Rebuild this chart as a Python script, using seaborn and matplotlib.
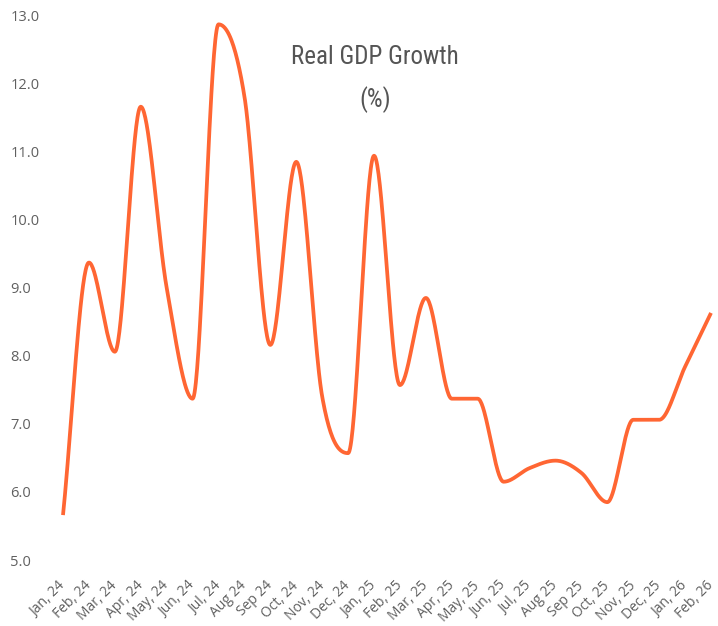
import numpy as np
import pandas as pd
import matplotlib
matplotlib.use("Agg")
import matplotlib.pyplot as plt
import seaborn as sns
from matplotlib import font_manager

months = ["Jan, 24", "Feb, 24", "Mar, 24", "Apr, 24", "May, 24", "Jun, 24", "Jul, 24",
          "Aug 24", "Sep 24", "Oct, 24", "Nov, 24", "Dec, 24", "Jan, 25", "Feb, 25",
          "Mar, 25", "Apr, 25", "May, 25", "Jun, 25", "Jul, 25", "Aug 25", "Sep 25",
          "Oct, 25", "Nov, 25", "Dec, 25", "Jan, 26", "Feb, 26"]
gdp_growth = [5.66, 9.37, 8.06, 11.66, 9.0, 7.37, 12.87, 11.81, 8.16, 10.85, 7.40, 6.57,
              10.94, 7.57, 8.85, 7.37, 7.37, 6.15, 6.35, 6.46, 6.28, 5.85, 7.06, 7.06,
              7.84, 8.63]
y_ticks = [5.0, 6.0, 7.0, 8.0, 9.0, 10.0, 11.0, 12.0, 13.0]
title_lines = ["Real GDP Growth", "(%)"]


def monotone_curve(y, steps=40):
    """Fritsch-Carlson monotone cubic rendering of the series."""
    y = np.asarray(y, float)
    n = len(y)
    x = np.arange(n, dtype=float)
    d = np.diff(y)
    m = np.zeros(n)
    m[0], m[-1] = d[0], d[-1]
    for i in range(1, n - 1):
        if d[i - 1] * d[i] <= 0:
            m[i] = 0.0
        else:
            m[i] = (d[i - 1] + d[i]) / 2
    for i in range(n - 1):
        if d[i] == 0:
            m[i] = m[i + 1] = 0.0
            continue
        a, b = m[i] / d[i], m[i + 1] / d[i]
        s = a * a + b * b
        if s > 9:
            t = 3 / np.sqrt(s)
            m[i], m[i + 1] = t * a * d[i], t * b * d[i]
    xs, ys = [], []
    for i in range(n - 1):
        t = np.linspace(0, 1, steps, endpoint=(i == n - 2))
        h00 = 2 * t**3 - 3 * t**2 + 1
        h10 = t**3 - 2 * t**2 + t
        h01 = -2 * t**3 + 3 * t**2
        h11 = t**3 - t**2
        xs.append(x[i] + t)
        ys.append(h00 * y[i] + h10 * m[i] + h01 * y[i + 1] + h11 * m[i + 1])
    return np.concatenate(xs), np.concatenate(ys)


sns.set_theme(style="white")
fonts = font_manager.fontManager.ttflist
avail = {f.name for f in fonts}
tick_font = "Open Sans" if "Open Sans" in avail else "DejaVu Sans"

# find a condensed face for the title if one is installed
title_family, title_stretch, title_size = "Roboto", "normal", 17
for cand in ["Roboto Condensed", "Open Sans Condensed", "Liberation Sans Narrow",
             "Noto Sans Condensed", "DejaVu Sans Condensed"]:
    if cand in avail:
        title_family, title_size = cand, 18
        break
else:
    for f in fonts:
        st = str(f.stretch).lower()
        if f.name in ("DejaVu Sans", "Noto Sans", "Open Sans", "Roboto") and (
                "condensed" in st or (st.isdigit() and int(st) < 500)):
            title_family, title_stretch, title_size = f.name, "condensed", 17
            break

plt.rcParams["font.family"] = [tick_font, "DejaVu Sans"]

fig = plt.figure(figsize=(7.18, 6.26), dpi=100)
ax = fig.add_axes([63 / 718, 66 / 626, (711 - 63) / 718, (560 - 15.5) / 626])

cx, cy = monotone_curve(gdp_growth)
df = pd.DataFrame({"x": cx, "y": cy})
sns.lineplot(data=df, x="x", y="y", ax=ax, color="#FF6633", linewidth=2.7,
             sort=False, estimator=None)

ax.set_xlim(0, len(months) - 1)
ax.set_ylim(5, 13)
ax.set_yticks(y_ticks)
ax.set_yticklabels([f"{v:.1f}" for v in y_ticks], color="#606060", fontsize=10.5,
                   ha="left")
ax.set_xticks(range(len(months)))
ax.set_xticklabels(months, rotation=45, ha="right", va="center",
                   rotation_mode="anchor", color="#606060", fontsize=10)
ax.tick_params(axis="y", length=0, pad=38)
ax.tick_params(axis="x", length=0, pad=17)
ax.set_xlabel("")
ax.set_ylabel("")
for s in ax.spines.values():
    s.set_visible(False)
ax.grid(False)
ax.patch.set_alpha(0)
for line in ax.lines:
    line.set_clip_on(False)
    line.set_solid_capstyle("butt")

for txt, ypix in zip(title_lines, [57, 100]):
    fig.text(375 / 718, 1 - ypix / 626, txt, ha="center", va="center",
             fontsize=title_size, color="#555555",
             family=[title_family, "DejaVu Sans"], stretch=title_stretch)

fig.savefig("out.png", dpi=100)
